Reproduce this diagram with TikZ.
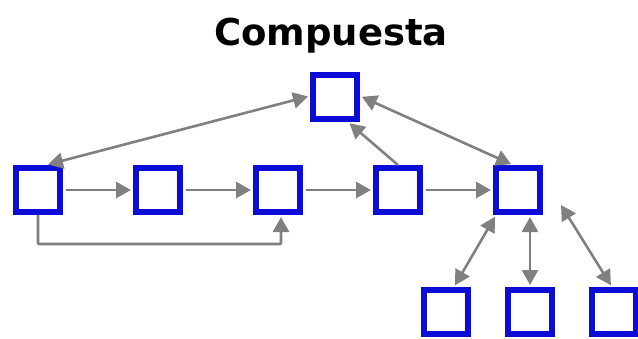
\documentclass[tikz,border=0pt]{standalone}
\usepackage{fontspec}
\setmainfont{DejaVu Sans}
\usetikzlibrary{arrows.meta}
\definecolor{boxblue}{RGB}{12,12,215}
\definecolor{arrgray}{RGB}{128,128,128}
\tikzset{
  box/.style={draw=boxblue, line width=6pt, fill=white, minimum width=44pt, minimum height=44pt, inner sep=0pt},
  arr/.style={draw=arrgray, line width=2.6pt, -{Triangle[length=15pt,width=16pt]}, shorten >=2pt, shorten <=3pt},
  darr/.style={draw=arrgray, line width=2.6pt, {Triangle[length=15pt,width=16pt]}-{Triangle[length=15pt,width=16pt]}, shorten >=2pt, shorten <=2pt},
  title/.style={font=\bfseries\fontsize{37}{40}\selectfont, inner sep=0pt, anchor=base}
}
\begin{document}
\begin{tikzpicture}[x=1pt,y=-1pt]
\useasboundingbox (0,0) rectangle (638,338);
\clip (0,0) rectangle (638,338);
\node[title] (t) at (331,45) {Compuesta};
\node[box] (top) at (335,97) {};
\node[box] (b1) at (38,190) {};
\node[box] (b2) at (158,190) {};
\node[box] (b3) at (278,190) {};
\node[box] (b4) at (398,190) {};
\node[box] (b5) at (518,190) {};
\node[box] (m1) at (446,312) {};
\node[box] (m2) at (530,312) {};
\node[box] (m3) at (614,312) {};
\coordinate (free) at (561,205);
% row
\draw[arr] (b1.east) -- (b2.west);
\draw[arr] (b2.east) -- (b3.west);
\draw[arr] (b3.east) -- (b4.west);
\draw[arr] (b4.east) -- (b5.west);
% loop under
\draw[arr, shorten <=0pt, rounded corners=1pt] (b1.south) -- ++(0,29) -| ([xshift=3pt]b3.south);
% top links
\draw[darr] ([xshift=8pt]b1.north) -- ([yshift=1pt]top.west);
\draw[arr, shorten <=0pt] (b4.north) -- ([xshift=13pt]top.south);
\draw[darr] ([yshift=1pt]top.east) -- ([xshift=-5pt]b5.north);
% bottom links
\draw[darr] ([xshift=-22pt]b5.south) -- ([xshift=8pt]m1.north);
\draw[darr] (m2.north |- b5.south) -- (m2.north);
\draw[darr, shorten <=0pt] (free) -- ([xshift=-2pt]m3.north);
\end{tikzpicture}
\end{document}
